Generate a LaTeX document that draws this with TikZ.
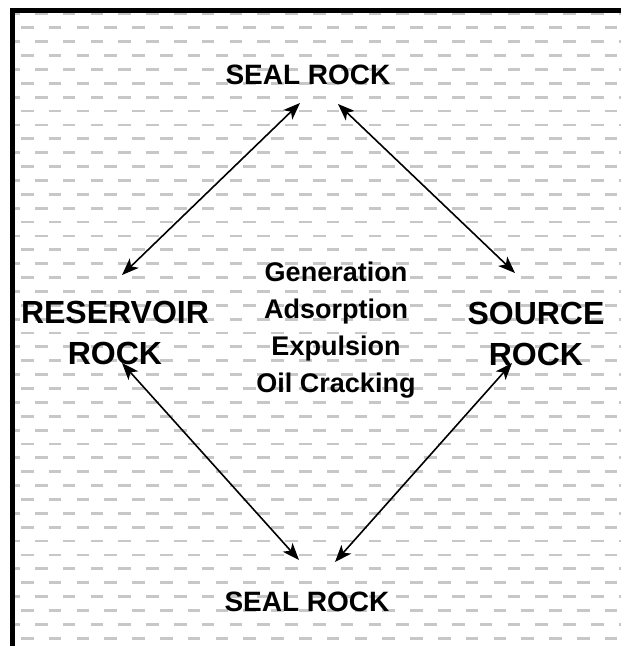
\documentclass[tikz,border=0pt]{standalone}
\usepackage{fontspec}
\setmainfont{Liberation Sans}
\usetikzlibrary{arrows.meta}
\begin{document}
\begin{tikzpicture}[x=1pt,y=-1pt,
  seal/.style={font=\bfseries\fontsize{28}{34}\selectfont, inner sep=0pt, anchor=base},
  rock/.style={font=\bfseries\fontsize{32}{41}\selectfont, inner sep=0pt, align=center, anchor=base},
  proc/.style={font=\bfseries\fontsize{27}{36.7}\selectfont, inner sep=0pt, align=center, anchor=base},
  biarrow/.style={{Stealth[length=17pt,width=13pt,inset=4.5pt]}-{Stealth[length=17pt,width=13pt,inset=4.5pt]}, line width=1.6pt},
  patt/.style={draw=black!22, line width=2.8pt, dash pattern=on 12.5pt off 15.3pt},
  frame/.style={line width=5pt, line join=miter}
]
\useasboundingbox (0,0) rectangle (621,646);
\fill[white] (0,0) rectangle (621,646);
\begin{scope}
  \clip (10,8) rectangle (621,646);
  \foreach \k in {0,...,45}{
    \pgfmathsetmacro{\yy}{14+13.87*\k}
    \pgfmathsetmacro{\xs}{ifthenelse(mod(\k,2)==0,7.2,-6.8)}
    \draw[patt] (\xs,\yy) -- (640,\yy);
  }
\end{scope}
\draw[frame] (12.5,646) -- (12.5,10.5) -- (621,10.5);

\node[seal] (sealtop) at (308,84) {SEAL ROCK};
\node[seal] (sealbot) at (307,611) {SEAL ROCK};
\node[rock] (reservoir) at (115,364) {RESERVOIR\\ROCK};
\node[rock] (source) at (536,365) {SOURCE\\ROCK};
\node[proc] (process) at (336,392) {Generation\\Adsorption\\Expulsion\\Oil Cracking};

\coordinate (a1) at (300,103);
\coordinate (a2) at (122,275);
\coordinate (b1) at (338,104);
\coordinate (b2) at (515,273);
\coordinate (c1) at (122,363);
\coordinate (c2) at (299,560);
\coordinate (d1) at (512,363);
\coordinate (d2) at (335,562);
\draw[biarrow] (a1) -- (a2);
\draw[biarrow] (b1) -- (b2);
\draw[biarrow] (c1) -- (c2);
\draw[biarrow] (d1) -- (d2);
\end{tikzpicture}
\end{document}
